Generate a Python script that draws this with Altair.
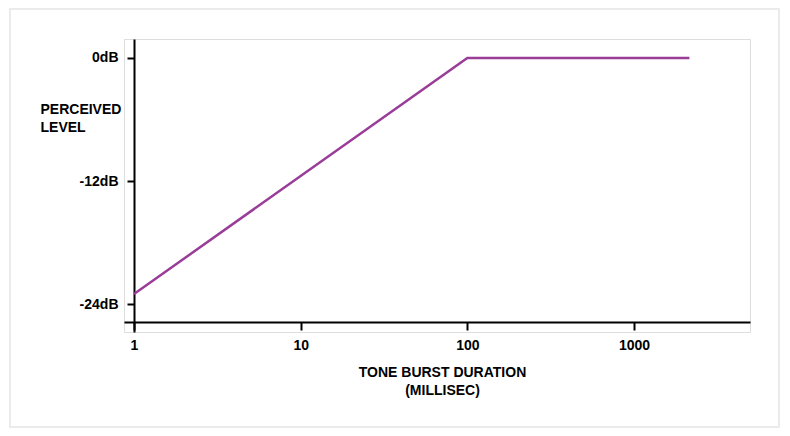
import altair as alt
import pandas as pd

# Data
duration_ms = [1, 100, 2150]
level_db = [-23, 0, 0]
x_ticks = [1, 10, 100, 1000]
y_ticks = [-24, -12, 0]

df = pd.DataFrame({"duration": duration_ms, "level": level_db})

FONT = "Liberation Sans"

line = alt.Chart(df).mark_line(color="#993d99", strokeWidth=2.5).encode(
    x=alt.X(
        "duration:Q",
        scale=alt.Scale(type="log", domain=[0.871, 4966], nice=False),
        axis=alt.Axis(
            values=x_ticks,
            labelExpr="format(datum.value, 'd')",
            grid=False,
            offset=-10,
            tickSize=8,
            tickWidth=2,
            domainWidth=2,
            domainColor="black",
            tickColor="black",
            labelPadding=8,
            labelFont=FONT,
            labelFontSize=14,
            labelFontWeight="bold",
            labelColor="black",
            title=["TONE BURST DURATION", "(MILLISEC)"],
            titleFont=FONT,
            titleFontSize=14,
            titleFontWeight="bold",
            titleColor="black",
            titleLineHeight=18,
            titleAlign="center",
            titleBaseline="top",
            titleX=318,
            titleY=43,
        ),
    ),
    y=alt.Y(
        "level:Q",
        scale=alt.Scale(domain=[-26.7, 1.85], nice=False, zero=False),
        axis=alt.Axis(
            values=y_ticks,
            labelExpr="datum.value + 'dB'",
            grid=False,
            offset=-10,
            tickSize=7,
            tickWidth=2,
            domainWidth=2,
            domainColor="black",
            tickColor="black",
            labelPadding=9,
            labelFont=FONT,
            labelFontSize=14,
            labelFontWeight="bold",
            labelColor="black",
            title=["PERCEIVED", "LEVEL"],
            titleFont=FONT,
            titleFontSize=14,
            titleFontWeight="bold",
            titleColor="black",
            titleLineHeight=18,
            titleAngle=0,
            titleAlign="left",
            titleBaseline="top",
            titleX=-94,
            titleY=63,
        ),
    ),
)

frame = alt.Chart(pd.DataFrame({"a": [0]})).mark_rect(
    fill=None, stroke="#ebebeb", strokeWidth=2
).encode(
    x=alt.value(-114),
    x2=alt.value(655),
    y=alt.value(-30),
    y2=alt.value(388),
)

chart = alt.layer(frame, line).properties(
    width=626,
    height=293,
    autosize=alt.AutoSizeParams(type="none"),
    padding={"left": 116, "top": 31, "right": 30, "bottom": 96},
).configure_view(stroke=None).configure(background="white")

chart.save("out.html", embed_options={"renderer": "svg", "actions": False})
